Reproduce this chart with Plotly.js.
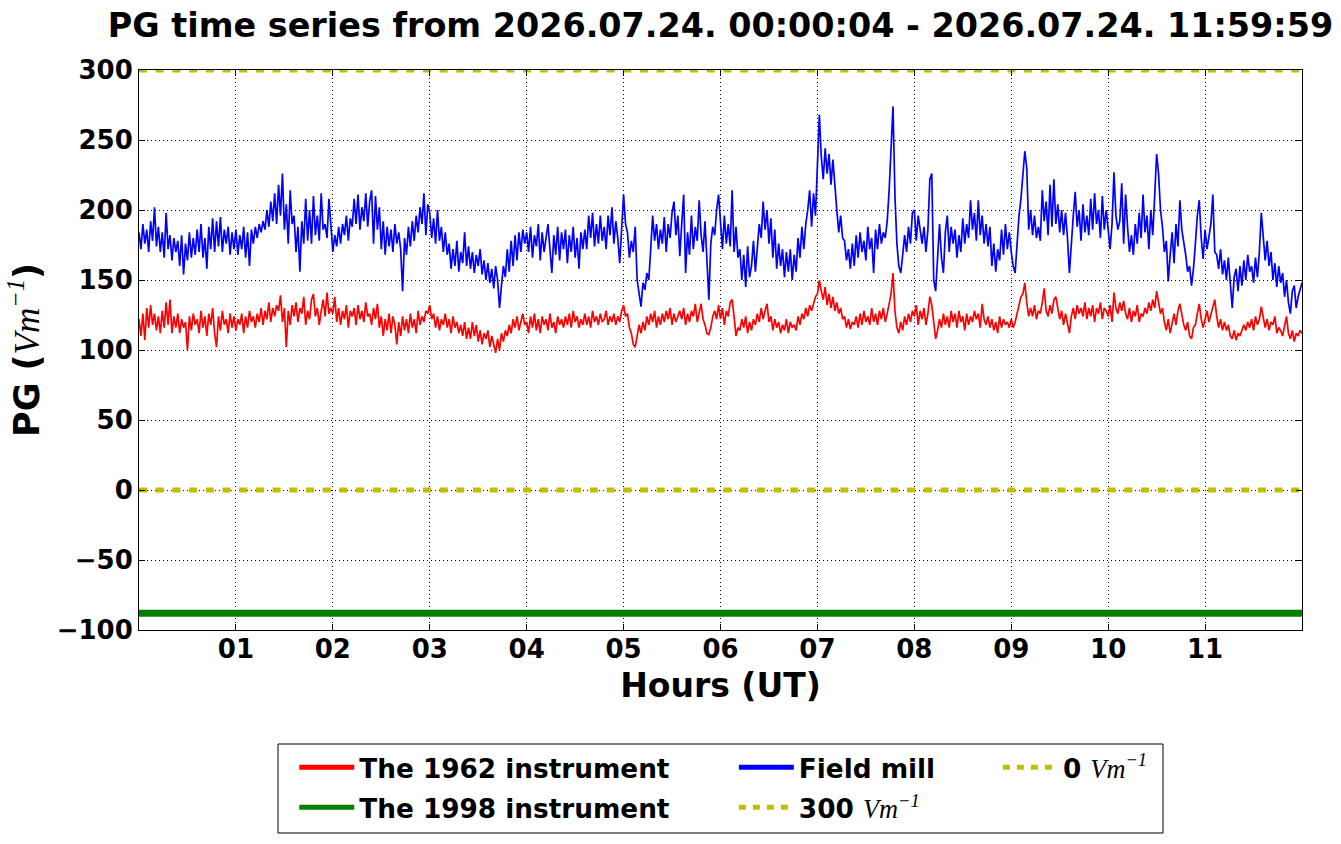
<!DOCTYPE html>
<html>
<head>
<meta charset="utf-8">
<script src="https://cdn.plot.ly/plotly-3.0.1.min.js"></script>
<style>
html,body{margin:0;padding:0;background:#fff;}
#chart{width:1341px;height:844px;}
</style>
</head>
<body>
<div id="chart"></div>
<script>
// ---------- data ----------
const startLabel = '2026.07.24. 00:00:04';
const endLabel = '2026.07.24. 11:59:59';
const sampleStepHours = 0.02;

// Field mill PG (V/m), one reading every 0.02 h from 00:00 to 12:00 (rows of 0.2 h)
const fieldMill = [
  184,172,190,176,186,170,192,178,202,174,
  188,170,184,166,198,172,182,164,180,170,
  178,160,182,154,176,164,184,166,180,168,
  186,170,190,166,180,158,188,172,194,170,
  192,174,195,170,186,176,188,168,184,172,
  186,168,182,172,188,166,184,160,186,176,
  188,180,190,184,192,186,200,188,206,192,
  212,190,218,196,226,186,204,176,214,190,
  196,170,188,156,192,176,208,178,200,176,
  210,182,196,178,212,186,190,180,208,188,
  // 02-04
  170,182,174,188,176,190,182,196,178,194,
  188,208,190,211,186,202,192,212,188,206,
  214,176,210,186,202,172,192,168,188,174,
  186,170,190,176,184,172,142,180,168,188,
  174,192,178,196,184,202,190,212,182,204,
  198,180,194,176,200,178,188,170,184,168,
  176,158,172,160,178,156,170,162,184,160,
  174,158,170,155,168,160,172,154,164,150,
  162,148,158,144,160,150,130,146,160,152,
  172,156,178,160,182,164,184,170,186,176,
  // 04-06
  184,170,188,166,182,174,190,164,184,170,
  180,190,172,155,182,168,188,164,184,172,
  186,162,182,170,188,166,180,158,184,172,
  186,172,196,180,198,174,190,176,196,178,
  188,172,196,182,202,176,192,180,162,186,
  211,190,184,166,178,170,188,150,140,131,
  148,143,155,150,172,196,178,190,172,186,
  176,195,170,190,180,198,206,182,196,167,
  190,211,155,184,168,196,172,188,178,207,
  182,170,192,168,136,176,188,182,200,211,
  // 06-08
  192,172,196,176,190,174,214,170,188,166,
  172,150,168,145,174,152,160,178,156,176,
  190,180,206,186,200,176,194,166,186,158,
  176,160,172,152,170,156,172,150,168,156,
  180,166,188,172,190,200,214,188,212,196,
  230,268,238,222,244,226,240,218,236,216,
  200,184,196,180,178,164,172,158,176,160,
  182,166,184,170,178,164,188,172,180,155,
  186,172,190,176,184,180,192,214,250,274,
  210,176,160,155,168,182,170,188,176,198,
  // 08-10
  200,178,196,184,176,188,170,186,222,226,
  150,142,170,190,166,155,184,196,170,188,
  176,186,166,182,170,194,176,190,180,207,
  186,198,178,207,182,196,176,190,174,188,
  160,176,156,172,164,186,168,190,172,184,
  170,160,155,178,196,208,226,242,230,186,
  200,182,196,180,188,178,214,192,206,182,
  218,188,222,190,204,184,200,182,198,180,
  155,178,196,213,188,200,178,204,184,196,
  182,208,186,212,190,200,180,210,186,200,
  // 10-12
  186,172,190,227,196,186,192,219,176,211,
  188,170,182,168,190,176,198,180,211,184,
  196,172,200,182,210,240,226,200,188,170,
  178,149,168,184,162,190,174,207,186,178,
  168,156,160,146,158,176,196,207,180,165,
  186,172,180,190,211,170,168,158,172,154,
  164,150,166,145,130,152,158,142,160,146,
  164,150,168,156,160,148,166,152,170,198,
  182,164,178,160,170,150,162,145,160,148,
  155,138,150,134,126,142,146,130,138,144,
  148
];

// The 1962 instrument PG (V/m), same sampling
const instrument1962 = [
  122,110,126,107,130,116,132,118,126,114,
  124,112,128,116,134,118,136,112,124,116,
  126,112,122,116,120,100,124,114,126,118,
  122,112,128,116,124,110,126,118,130,112,
  102,124,114,128,118,122,112,126,116,124,
  114,122,118,126,112,124,116,128,120,124,
  116,126,120,130,118,128,122,134,120,130,
  124,132,128,139,120,130,102,128,118,132,
  124,134,120,130,126,138,118,128,122,136,
  140,124,130,118,128,136,124,141,126,130,
  // 02-04
  126,138,120,130,118,128,122,132,116,128,
  124,130,118,132,122,128,120,134,124,126,
  118,130,122,133,116,124,110,122,114,126,
  112,124,118,104,120,110,124,114,122,112,
  126,116,122,112,128,118,124,120,128,126,
  132,122,126,116,124,114,122,118,126,116,
  122,112,124,116,120,112,118,110,120,108,
  116,108,120,110,118,106,114,104,112,108,
  114,102,110,104,98,108,100,112,106,114,
  110,118,112,122,116,124,114,120,126,118,
  // 04-06
  120,112,124,116,126,114,122,112,124,118,
  122,114,126,116,120,112,124,118,122,116,
  124,118,126,116,128,120,124,116,122,118,
  126,118,124,116,128,120,124,118,126,120,
  122,128,118,124,120,126,118,124,120,128,
  132,124,126,116,112,104,102,110,118,112,
  120,114,124,118,126,120,128,116,124,118,
  126,120,128,122,130,118,126,120,124,128,
  122,130,118,126,120,128,124,133,120,126,
  133,122,118,112,111,116,124,128,122,132,
  // 06-08
  122,130,118,128,124,134,136,124,110,116,
  114,122,116,124,112,120,114,122,118,126,
  120,130,122,128,133,120,124,114,122,116,
  120,112,118,114,122,112,120,116,118,114,
  124,118,126,122,130,124,132,128,134,138,
  140,150,142,136,145,132,140,130,138,128,
  134,126,130,122,124,116,122,115,120,118,
  124,116,126,118,128,120,124,118,130,120,
  126,118,128,122,130,120,126,132,140,155,
  128,116,112,120,114,124,118,126,120,128,
  // 08-10
  124,132,118,128,122,130,118,126,138,132,
  120,108,114,122,116,126,118,124,116,128,
  120,126,116,128,120,124,114,126,118,124,
  120,128,122,126,116,133,122,118,124,116,
  122,114,120,112,124,116,122,118,120,116,
  122,116,120,126,132,138,140,148,134,124,
  130,124,132,122,128,126,134,144,128,124,
  132,126,136,138,130,122,128,118,126,120,
  112,124,130,122,132,126,130,124,134,122,
  130,124,132,120,130,126,134,122,130,128,
  // 10-12
  124,132,120,141,130,126,134,128,135,126,
  122,130,120,128,124,132,120,126,124,130,
  126,134,128,136,130,142,134,126,130,120,
  114,122,112,120,126,118,128,133,124,118,
  114,120,110,108,116,118,126,133,122,116,
  122,128,120,126,130,136,124,116,122,114,
  120,114,118,110,108,114,107,112,110,115,
  118,114,120,116,122,114,124,118,122,131,
  124,116,122,114,120,118,124,112,116,114,
  110,118,124,112,108,114,106,112,110,114,
  112
];

// The 1998 instrument reading (constant) and reference levels (V/m)
const instrument1998Level = -88;
const referenceHigh = 300;
const referenceZero = 0;

const xTickValues = [1,2,3,4,5,6,7,8,9,10,11];
const xTickLabels = ['01','02','03','04','05','06','07','08','09','10','11'];
const yTickValues = [-100,-50,0,50,100,150,200,250,300];

// ---------- build ----------
const hours = fieldMill.map((_, i) => +(i * sampleStepHours).toFixed(2));
const constSeries = v => hours.map(() => v);

const FONT = 'DejaVu Sans';
const unit = '<span style="font-family:Liberation Serif;font-weight:normal;font-style:italic">Vm<sup>−1</sup></span>';
const YEL = '#bfbf00';

const traces = [
  {x: hours, y: instrument1962, mode:'lines', line:{color:'#ff0000', width:1.7}, showlegend:false, hoverinfo:'skip'},
  {x: hours, y: constSeries(instrument1998Level), mode:'lines', line:{color:'#008000', width:7}, showlegend:false, hoverinfo:'skip'},
  {x: hours, y: fieldMill, mode:'lines', line:{color:'#0000ff', width:1.7}, showlegend:false, hoverinfo:'skip'},
  {x: hours, y: constSeries(referenceHigh), mode:'lines', line:{color:YEL, width:5, dash:'8px,8.7px'}, showlegend:false, hoverinfo:'skip'},
  {x: hours, y: constSeries(referenceZero), mode:'lines', line:{color:YEL, width:5, dash:'8px,8.7px'}, showlegend:false, hoverinfo:'skip'},
  // legend entries (matplotlib-style 3-column legend, filled column by column)
  {x:[null], y:[null], mode:'lines', name:'The 1962 instrument', line:{color:'#ff0000', width:5}, legend:'legend'},
  {x:[null], y:[null], mode:'lines', name:'The 1998 instrument', line:{color:'#008000', width:5}, legend:'legend2'},
  {x:[null], y:[null], mode:'lines', name:'Field mill', line:{color:'#0000ff', width:5}, legend:'legend3'},
  {x:[null], y:[null], mode:'lines', name:'300 ' + unit, line:{color:YEL, width:5, dash:'7px,7px'}, legend:'legend4'},
  {x:[null], y:[null], mode:'lines', name:'0 ' + unit, line:{color:YEL, width:5, dash:'7px,7px'}, legend:'legend5'}
];

const ROW1 = -0.203, ROW2 = -0.2745;
const COL1 = 0.1335, COL2 = 0.5115, COL3 = 0.7385;
const legendBase = {
  yanchor:'top', xanchor:'left',
  bgcolor:'rgba(0,0,0,0)', borderwidth:0, orientation:'v',
  itemwidth:55, tracegroupgap:0,
  font:{family:FONT, size:26.3, weight:'bold', color:'#000'}
};

const axisCommon = {
  showline:true, linecolor:'#000', linewidth:1, mirror:'ticks',
  ticks:'inside', ticklen:6, tickcolor:'#000', tickwidth:1,
  showgrid:true, gridcolor:'#000', gridwidth:1, griddash:'1px,3px',
  zeroline:false,
  tickfont:{family:FONT, size:26, weight:'bold', color:'#000'}
};

const layout = {
  width:1341, height:844,
  margin:{l:139, r:39, t:70, b:214},
  paper_bgcolor:'#fff', plot_bgcolor:'#fff',
  font:{family:FONT, color:'#000'},
  title:{
    text:'PG time series from ' + startLabel + ' - ' + endLabel,
    font:{family:FONT, size:33.4, weight:'bold', color:'#000'},
    x:0.5, xref:'paper', xanchor:'center', y:0.97, yanchor:'middle'
  },
  xaxis: Object.assign({}, axisCommon, {
    range:[0,12], tickmode:'array', tickvals:xTickValues, ticktext:xTickLabels,
    ticklabelstandoff:-4,
    title:{text:'Hours (UT)', font:{family:FONT, size:33, weight:'bold', color:'#000'}, standoff:10}
  }),
  yaxis: Object.assign({}, axisCommon, {
    range:[-100,300], tickmode:'array', tickvals:yTickValues,
    title:{text:'PG (' + unit + ')', font:{family:FONT, size:35, weight:'bold', color:'#000'}, standoff:6}
  }),
  legend:  Object.assign({}, legendBase, {x:COL1, y:ROW1}),
  legend2: Object.assign({}, legendBase, {x:COL1, y:ROW2}),
  legend3: Object.assign({}, legendBase, {x:COL2, y:ROW1}),
  legend4: Object.assign({}, legendBase, {x:COL2, y:ROW2}),
  legend5: Object.assign({}, legendBase, {x:COL3, y:ROW1}),
  shapes:[{
    type:'rect', xref:'paper', yref:'paper',
    x0:(278-139)/1163, x1:(1163-139)/1163, y0:(630-833)/560, y1:(630-744)/560,
    line:{color:'#000', width:1}, fillcolor:'rgba(0,0,0,0)'
  }],
  showlegend:true
};

Plotly.newPlot('chart', traces, layout, {displayModeBar:false, staticPlot:true});
</script>
</body>
</html>
